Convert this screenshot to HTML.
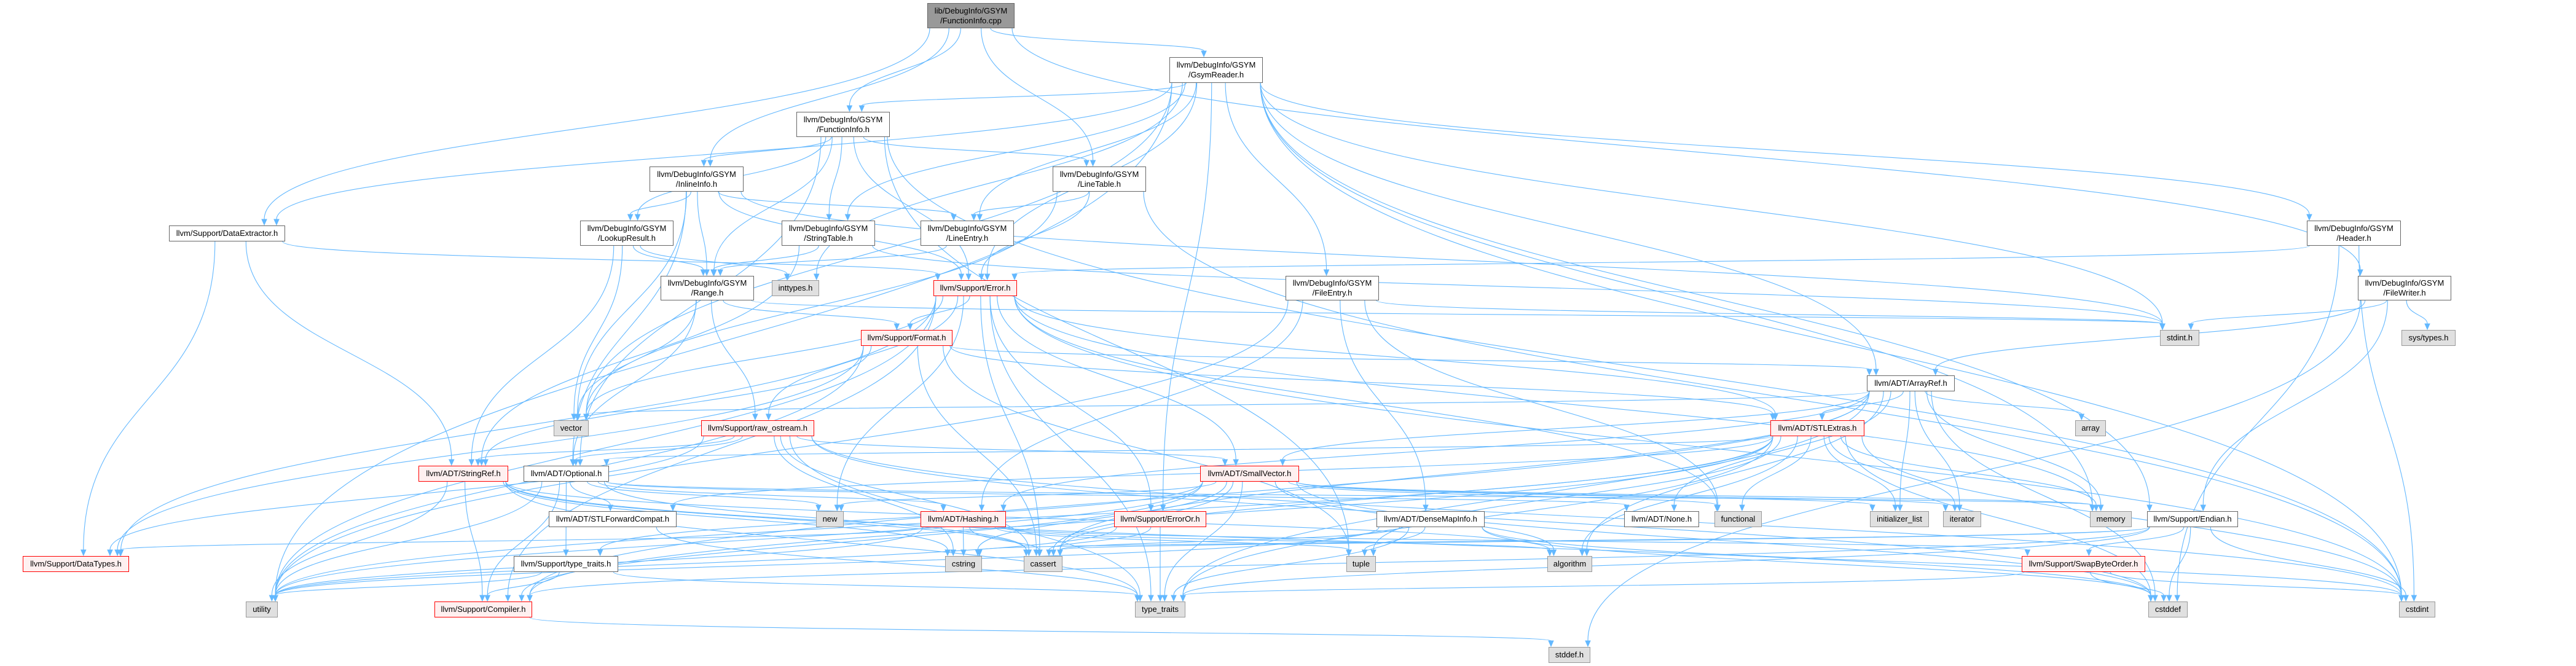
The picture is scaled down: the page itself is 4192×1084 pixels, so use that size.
<!DOCTYPE html>
<html><head><meta charset="utf-8"><style>
html,body{margin:0;padding:0;background:#fff;}
body{width:4192px;height:1084px;position:relative;overflow:hidden;font-family:"Liberation Sans",Arial,sans-serif;}
svg{position:absolute;left:0;top:0;}
.n{position:absolute;box-sizing:border-box;border:1px solid #666;background:#fff;font-size:13px;line-height:16px;color:#000;display:flex;align-items:center;justify-content:center;text-align:center;white-space:nowrap;z-index:2;}
.r{border-color:#f00;background:#fff0f0;}
.g{border-color:#999;background:#e0e0e0;}
.m{background:#999;border-color:#666;}
</style></head><body>
<svg id="e" width="4192" height="1084"></svg>

<div class="n m" id="fic" style="left:1509px;top:5px;width:142px;height:41px">lib/DebugInfo/GSYM<br>/FunctionInfo.cpp</div>
<div class="n" id="gsr" style="left:1903px;top:93px;width:152px;height:42px">llvm/DebugInfo/GSYM<br>/GsymReader.h</div>
<div class="n" id="fih" style="left:1296px;top:182px;width:152px;height:41px">llvm/DebugInfo/GSYM<br>/FunctionInfo.h</div>
<div class="n" id="inl" style="left:1057px;top:271px;width:153px;height:41px">llvm/DebugInfo/GSYM<br>/InlineInfo.h</div>
<div class="n" id="lkr" style="left:944px;top:359px;width:152px;height:41px">llvm/DebugInfo/GSYM<br>/LookupResult.h</div>
<div class="n" id="stt" style="left:1272px;top:359px;width:152px;height:41px">llvm/DebugInfo/GSYM<br>/StringTable.h</div>
<div class="n" id="rng" style="left:1075px;top:449px;width:152px;height:40px">llvm/DebugInfo/GSYM<br>/Range.h</div>
<div class="n g" id="int" style="left:1256px;top:456px;width:77px;height:26px">inttypes.h</div>
<div class="n" id="dex" style="left:275px;top:367px;width:189px;height:26px">llvm/Support/DataExtractor.h</div>
<div class="n" id="ltb" style="left:1713px;top:271px;width:152px;height:41px">llvm/DebugInfo/GSYM<br>/LineTable.h</div>
<div class="n" id="len" style="left:1498px;top:359px;width:152px;height:41px">llvm/DebugInfo/GSYM<br>/LineEntry.h</div>
<div class="n r" id="err" style="left:1519px;top:456px;width:136px;height:26px">llvm/Support/Error.h</div>
<div class="n" id="fen" style="left:2092px;top:449px;width:152px;height:40px">llvm/DebugInfo/GSYM<br>/FileEntry.h</div>
<div class="n" id="hdr" style="left:3754px;top:359px;width:153px;height:41px">llvm/DebugInfo/GSYM<br>/Header.h</div>
<div class="n" id="fwr" style="left:3837px;top:449px;width:152px;height:40px">llvm/DebugInfo/GSYM<br>/FileWriter.h</div>
<div class="n g" id="sdi" style="left:3515px;top:537px;width:64px;height:26px">stdint.h</div>
<div class="n g" id="sys" style="left:3908px;top:537px;width:88px;height:26px">sys/types.h</div>
<div class="n r" id="fmt" style="left:1401px;top:537px;width:149px;height:26px">llvm/Support/Format.h</div>
<div class="n" id="arr" style="left:3038px;top:611px;width:143px;height:26px">llvm/ADT/ArrayRef.h</div>
<div class="n r" id="stl" style="left:2881px;top:684px;width:153px;height:26px">llvm/ADT/STLExtras.h</div>
<div class="n g" id="ary" style="left:3377px;top:684px;width:50px;height:26px">array</div>
<div class="n g" id="vec" style="left:901px;top:684px;width:57px;height:26px">vector</div>
<div class="n r" id="raw" style="left:1141px;top:684px;width:184px;height:26px">llvm/Support/raw_ostream.h</div>
<div class="n r" id="srf" style="left:681px;top:758px;width:146px;height:26px">llvm/ADT/StringRef.h</div>
<div class="n" id="opt" style="left:852px;top:758px;width:139px;height:26px">llvm/ADT/Optional.h</div>
<div class="n r" id="smv" style="left:1953px;top:758px;width:161px;height:26px">llvm/ADT/SmallVector.h</div>
<div class="n" id="sfc" style="left:893px;top:832px;width:208px;height:26px">llvm/ADT/STLForwardCompat.h</div>
<div class="n g" id="new" style="left:1328px;top:832px;width:45px;height:26px">new</div>
<div class="n r" id="hsh" style="left:1498px;top:832px;width:139px;height:26px">llvm/ADT/Hashing.h</div>
<div class="n r" id="eor" style="left:1813px;top:832px;width:150px;height:26px">llvm/Support/ErrorOr.h</div>
<div class="n" id="dmi" style="left:2240px;top:832px;width:176px;height:26px">llvm/ADT/DenseMapInfo.h</div>
<div class="n" id="non" style="left:2643px;top:832px;width:122px;height:26px">llvm/ADT/None.h</div>
<div class="n g" id="fnc" style="left:2790px;top:832px;width:77px;height:26px">functional</div>
<div class="n g" id="inl2" style="left:3043px;top:832px;width:96px;height:26px">initializer_list</div>
<div class="n g" id="itr" style="left:3162px;top:832px;width:62px;height:26px">iterator</div>
<div class="n g" id="mem" style="left:3401px;top:832px;width:68px;height:26px">memory</div>
<div class="n" id="end" style="left:3494px;top:832px;width:148px;height:26px">llvm/Support/Endian.h</div>
<div class="n r" id="dtp" style="left:37px;top:905px;width:173px;height:26px">llvm/Support/DataTypes.h</div>
<div class="n" id="stt2" style="left:836px;top:905px;width:170px;height:26px">llvm/Support/type_traits.h</div>
<div class="n g" id="cst" style="left:1538px;top:905px;width:60px;height:26px">cstring</div>
<div class="n g" id="cas" style="left:1666px;top:905px;width:63px;height:26px">cassert</div>
<div class="n g" id="tup" style="left:2191px;top:905px;width:48px;height:26px">tuple</div>
<div class="n g" id="alg" style="left:2518px;top:905px;width:73px;height:26px">algorithm</div>
<div class="n r" id="swp" style="left:3290px;top:905px;width:201px;height:26px">llvm/Support/SwapByteOrder.h</div>
<div class="n g" id="uti" style="left:400px;top:979px;width:52px;height:26px">utility</div>
<div class="n r" id="cmp" style="left:707px;top:979px;width:159px;height:26px">llvm/Support/Compiler.h</div>
<div class="n g" id="tyt" style="left:1847px;top:979px;width:82px;height:26px">type_traits</div>
<div class="n g" id="csd" style="left:3496px;top:979px;width:64px;height:26px">cstddef</div>
<div class="n g" id="csi" style="left:3904px;top:979px;width:59px;height:26px">cstdint</div>
<div class="n g" id="sdh" style="left:2520px;top:1053px;width:68px;height:26px">stddef.h</div>

<script>
var E={
fic:"gsr fih inl ltb dex fwr",
gsr:"fih fen hdr len stt err eor dex end arr int mem sdi vec csi uti",
fih:"inl ltb lkr rng stt opt err tup csi",
inl:"len lkr rng opt err sdi vec",
lkr:"rng srf int vec",
stt:"rng srf sdi",
ltb:"len err csi vec",
len:"rng",
rng:"opt fmt raw sdi vec",
dex:"srf dtp err",
hdr:"err csd csi",
fwr:"arr end sdh sdi sys",
fen:"dmi hsh fnc sdi uti",
err:"cmp dtp eor fmt raw stl smv cas csi fnc mem new tyt uti vec",
fmt:"arr stl srf dtp cas tup uti",
arr:"hsh non smv stl cmp alg ary cas csd inl2 itr mem tyt vec",
stl:"opt sfc alg cas csd csi fnc inl2 itr mem tup tyt uti cmp",
raw:"smv srf opt dtp cas csd csi cst tyt",
srf:"cmp alg cas csd cst tyt uti",
opt:"non sfc hsh cmp stt2 cas mem new uti",
smv:"cmp stt2 alg cas csd cst fnc inl2 itr mem new tyt uti",
hsh:"dtp swp alg cas cst tup uti",
eor:"cas tyt uti",
dmi:"cas csd csi tup tyt uti",
sfc:"tyt",
stt2:"cmp tyt uti",
cmp:"sdh",
end:"cmp swp cas csd csi cst tyt",
swp:"csd csi tyt"
};
function box(id){var d=document.getElementById(id);return{x:d.offsetLeft,y:d.offsetTop,w:d.offsetWidth,h:d.offsetHeight};}
var s='',col='#63b8ff';
for(var a in E){var A=box(a);E[a].split(' ').forEach(function(b){var B=box(b);
 var acx=A.x+A.w/2,bcx=B.x+B.w/2;
 var sx=acx+Math.max(-A.w/2+4,Math.min(A.w/2-4,(bcx-acx)*0.08));
 var sy=A.y+A.h;
 var tx=bcx+Math.max(-B.w/2+4,Math.min(B.w/2-4,(acx-bcx)*0.05));
 var ty=B.y-1;
 var my=(sy+ty)/2;
 var ey=ty-9;
 s+='<path d="M'+sx+','+sy+' C'+sx+','+my+' '+tx+','+(my)+' '+tx+','+ey+'" fill="none" stroke="'+col+'" stroke-width="1.1"/>';
 s+='<polygon points="'+(tx-4)+','+ey+' '+(tx+4)+','+ey+' '+tx+','+ty+'" fill="'+col+'" stroke="'+col+'"/>';
});}
document.getElementById('e').innerHTML=s;
</script>
</body></html>
